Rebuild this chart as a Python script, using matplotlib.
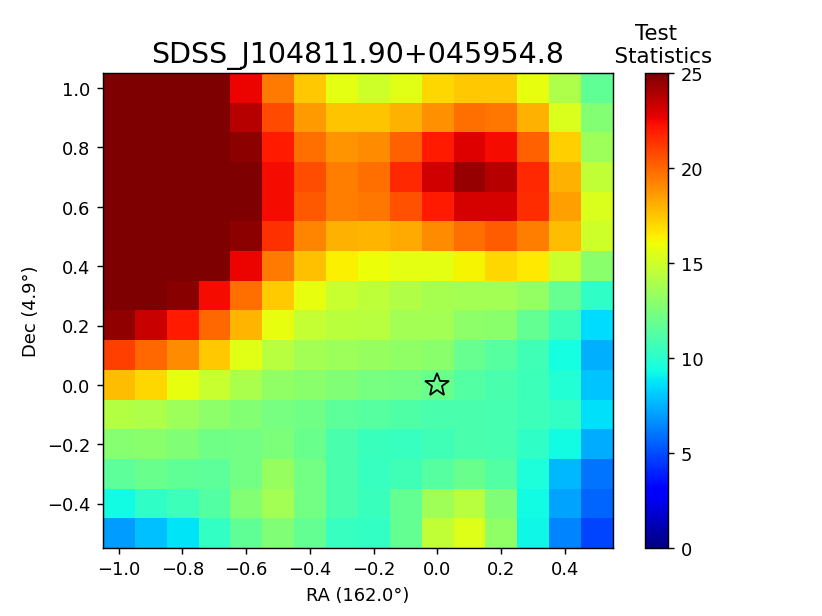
import numpy as np
import matplotlib
matplotlib.use('Agg')
import matplotlib.pyplot as plt

source_name = 'SDSS_J104811.90+045954.8'
ra_center = [-1.0, -0.9, -0.8, -0.7, -0.6, -0.5, -0.4, -0.3, -0.2, -0.1, 0.0, 0.1, 0.2, 0.3, 0.4, 0.5]
dec_center = [1.0, 0.9, 0.8, 0.7, 0.6, 0.5, 0.4, 0.3, 0.2, 0.1, 0.0, -0.1, -0.2, -0.3, -0.4, -0.5]

# TS map, top row first (values above 25 saturate)
ts_map = [
    [26, 26, 26, 26, 22.6, 19.5, 17.4, 15.7, 15.0, 15.6, 17.0, 17.4, 17.4, 15.8, 14.0, 11.7],
    [26, 26, 26, 26, 23.8, 20.8, 18.6, 17.5, 17.5, 18.0, 18.9, 19.8, 19.6, 18.0, 15.4, 12.7],
    [26, 26, 26, 26, 24.7, 22.0, 19.8, 18.8, 19.0, 20.2, 22.0, 22.9, 22.4, 20.2, 17.2, 13.5],
    [26, 26, 26, 26, 26, 22.4, 20.7, 19.4, 19.8, 21.6, 23.2, 24.5, 23.8, 21.6, 18.0, 14.6],
    [26, 26, 26, 26, 26, 22.4, 20.4, 19.4, 19.6, 20.6, 22.0, 23.1, 23.1, 21.5, 18.5, 15.4],
    [26, 26, 26, 26, 24.7, 21.4, 19.2, 18.0, 17.9, 18.2, 19.0, 19.8, 20.3, 19.4, 17.7, 15.0],
    [26, 26, 26, 26, 22.6, 19.5, 17.6, 16.4, 16.0, 15.7, 15.7, 16.3, 17.0, 16.6, 14.9, 12.9],
    [26, 26, 24.8, 22.4, 19.8, 17.3, 15.8, 14.8, 14.5, 14.1, 13.8, 13.7, 13.7, 13.2, 11.9, 10.2],
    [24.6, 23.4, 22.0, 20.0, 17.9, 15.8, 14.7, 14.4, 14.3, 13.7, 13.7, 13.0, 12.9, 11.8, 10.6, 8.5],
    [21.0, 20.0, 19.0, 17.4, 15.6, 14.3, 13.7, 13.5, 13.3, 13.1, 12.9, 11.9, 11.4, 10.7, 9.4, 7.5],
    [17.7, 17.0, 15.8, 14.8, 13.9, 13.1, 12.9, 12.6, 12.4, 12.3, 12.0, 11.3, 11.0, 10.6, 9.8, 8.0],
    [14.2, 14.0, 13.5, 13.0, 12.7, 12.4, 12.2, 11.6, 11.4, 11.2, 11.0, 11.0, 10.9, 10.6, 10.3, 8.6],
    [12.8, 12.9, 12.6, 12.2, 12.3, 12.5, 12.0, 11.0, 10.5, 10.4, 10.7, 11.0, 10.9, 10.2, 9.3, 7.4],
    [11.6, 12.0, 11.7, 11.6, 12.3, 13.3, 12.3, 11.0, 10.4, 10.7, 11.4, 12.0, 11.3, 9.6, 7.7, 6.0],
    [9.3, 10.2, 10.6, 11.3, 12.7, 13.7, 12.3, 11.0, 10.5, 11.8, 13.6, 14.3, 12.6, 9.3, 7.2, 5.6],
    [7.0, 7.9, 8.7, 10.3, 11.7, 12.6, 11.8, 10.4, 10.3, 11.8, 14.6, 15.5, 13.1, 9.2, 6.4, 4.8],
]
star_ra = [0.0]
star_dec = [0.0]

fig, ax = plt.subplots(figsize=(6.4, 4.8))

half = 0.05
extent = [ra_center[0] - half, ra_center[-1] + half, dec_center[-1] - half, dec_center[0] + half]
im = ax.imshow(np.array(ts_map), cmap='jet', vmin=0, vmax=25, extent=extent, aspect='auto')
ax.plot(star_ra, star_dec, marker='*', ms=14, mfc='none', mec='k', mew=1.0, ls='none')

ax.set_xlabel('RA (162.0°)')
ax.set_ylabel('Dec (4.9°)')
ax.set_title(source_name, fontsize=16)

cbar = fig.colorbar(im, ax=ax)
cbar.ax.set_title('Test\n  Statistics', fontsize=12)

fig.savefig('out.png', dpi=128.5)
